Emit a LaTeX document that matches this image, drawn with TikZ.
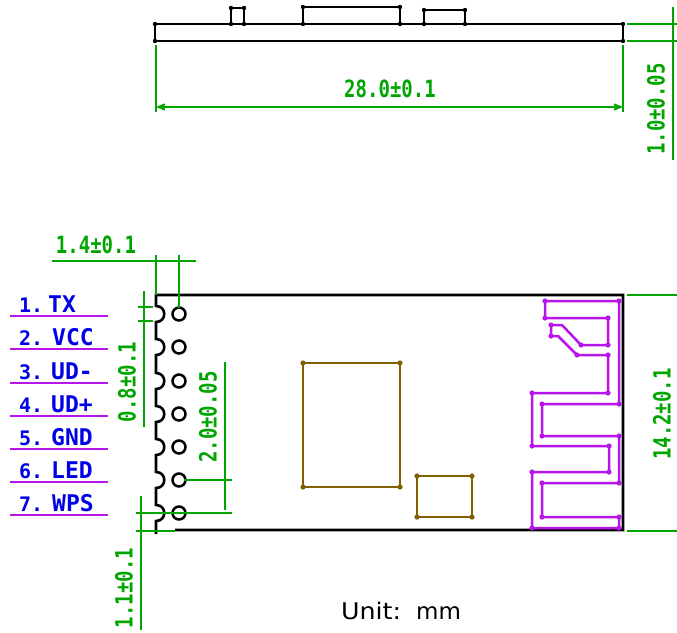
\documentclass[tikz,border=0pt]{standalone}
\usepackage{fontspec}
\setmonofont{DejaVu Sans Mono}
\setsansfont{DejaVu Sans}
\usetikzlibrary{arrows}
\definecolor{dim_green}{RGB}{0,165,0}
\definecolor{ant_purple}{RGB}{185,20,235}
\definecolor{chip_brown}{RGB}{128,96,0}
\definecolor{pin_blue}{RGB}{0,0,230}
\newcommand{\tall}[1]{\scalebox{1}[1.25]{#1}}
\tikzset{
    board_line/.style = {draw=black, line width=2.6pt},
    dim_line/.style = {draw=dim_green, line width=2.2pt},
    ant_line/.style = {draw=ant_purple, line width=2.5pt, line join=miter},
    chip_line/.style = {draw=chip_brown, line width=2.8pt},
    pad/.style = {circle, draw=black, line width=2.5pt, minimum size=13pt, inner sep=0pt},
    dim_text/.style = {text=dim_green, inner sep=0pt, font=\ttfamily\bfseries\fontsize{19}{19}\selectfont},
    pin_text/.style = {text=pin_blue, inner sep=0pt, anchor=base west, font=\ttfamily\bfseries\fontsize{23}{23}\selectfont},
    num_text/.style = {text=pin_blue, inner sep=0pt, anchor=base west, font=\ttfamily\bfseries\fontsize{20}{20}\selectfont}
}
\begin{document}
\begin{tikzpicture}[x=1pt, y=-1pt, >=stealth']
    \useasboundingbox (0,0) rectangle (677,632);

    \draw[board_line] (155,24) rectangle (623,41);
    \draw[board_line] (231,24) -- (231,8) -- (244,8) -- (244,24);
    \draw[board_line] (303,24) -- (303,7) -- (400,7) -- (400,24);
    \draw[board_line] (424,24) -- (424,10) -- (465,10) -- (465,24);
    \foreach \px/\py in {155/24,155/41,623/24,623/41,231/8,244/8,231/24,244/24,303/7,400/7,303/24,400/24,424/10,465/10,424/24,465/24}
        \fill (\px,\py) circle (2.2pt);

    \draw[dim_line] (156,45) -- (156,112);
    \draw[dim_line] (623,45) -- (623,112);
    \draw[dim_line, <->, line width=1.8pt] (157,107) -- (622,107);
    \node[dim_text] (len_label) at (390,89) {\tall{28.0±0.1}};
    \draw[dim_line] (627,24) -- (677,24);
    \draw[dim_line] (627,41) -- (677,41);
    \draw[dim_line] (673,7) -- (673,160);
    \node[dim_text, rotate=90] (thick_label) at (656,109) {\tall{1.0±0.05}};

    \draw[board_line] (175,530) -- (623,530) -- (623,295) -- (156,295)
        \foreach \y in {314,347,381,414,447,480,513} {
            -- (156,\y-8) .. controls (167,\y-8) and (167,\y+8) .. (156,\y+8)
        } -- (156,534);
    \foreach \y in {314,347,381,414,447,480,513}
        \node[pad] (pad\y) at (179,\y) {};

    \draw[dim_line] (52,261) -- (196,261);
    \draw[dim_line] (156,255) -- (156,295);
    \draw[dim_line] (179,255) -- (179,308);
    \node[dim_text] (pitch_label) at (96,245) {\tall{1.4±0.1}};
    \draw[dim_line] (144,291) -- (144,427);
    \draw[dim_line] (138,307) -- (153,307);
    \draw[dim_line] (138,321) -- (153,321);
    \node[dim_text, rotate=90] (pad_label) at (127,382) {\tall{0.8±0.1}};
    \draw[dim_line] (225,362) -- (225,510);
    \draw[dim_line] (184,480) -- (232,480);
    \draw[dim_line] (136,513) -- (232,513);
    \node[dim_text, rotate=90] (span_label) at (208,417) {\tall{2.0±0.05}};
    \draw[dim_line] (141,496) -- (141,630);
    \draw[dim_line] (136,531) -- (175,531);
    \node[dim_text, rotate=90] (edge_label) at (124,588) {\tall{1.1±0.1}};
    \draw[dim_line] (627,295) -- (677,295);
    \draw[dim_line] (627,531) -- (677,531);
    \node[dim_text, rotate=90] (width_label) at (662,414) {\tall{14.2±0.1}};

    \foreach \n/\name/\ln/\nx in {1/TX/316/48,2/VCC/349/52,3/UD-/383/51,4/UD+/416/51,5/GND/449/51,6/LED/482/51,7/WPS/515/52} {
        \draw[ant_line] (10,\ln) -- (108,\ln);
        \node[num_text] (num\n) at (19,\ln-4) {\n.};
        \node[pin_text] (name\n) at (\nx,\ln-4) {\name};
    }

    \draw[chip_line] (303,363) rectangle (400,487);
    \draw[chip_line] (417,476) rectangle (472,517);
    \foreach \px/\py in {303/363,400/363,303/487,400/487,417/476,472/476,417/517,472/517}
        \fill[chip_brown] (\px,\py) circle (2.6pt);

    \draw[ant_line] (545,301) -- (619,301) -- (619,404) -- (542,404) -- (542,436) -- (619,436)
        -- (619,483) -- (542,483) -- (542,517) -- (619,517) -- (619,528) -- (532,528)
        -- (532,472) -- (609,472) -- (609,446) -- (532,446) -- (532,393) -- (608,393)
        -- (608,355) -- (577,355) -- (558,336) -- (551,336) -- (551,325) -- (562,325)
        -- (581,345) -- (608,345) -- (608,318) -- (545,318) -- cycle;
    \foreach \px/\py in {545/301,619/301,619/404,542/404,542/436,619/436,619/483,542/483,542/517,619/517,619/528,532/528,532/472,609/472,609/446,532/446,532/393,608/393,608/355,577/355,551/336,551/325,581/345,608/345,608/318,545/318}
        \fill[ant_purple] (\px,\py) circle (2.6pt);

    \node[inner sep=0pt, font=\sffamily\fontsize{23}{23}\selectfont] (unit_label) at (401,611) {\scalebox{1.1}[1]{Unit:}\hspace{15pt}mm};
\end{tikzpicture}
\end{document}
